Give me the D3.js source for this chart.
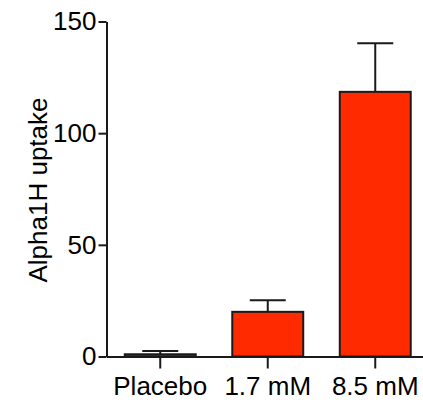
<!DOCTYPE html>
<html>
<head>
<meta charset="utf-8">
<script src="https://cdn.jsdelivr.net/npm/d3@7"></script>
<style>
  html, body { margin: 0; padding: 0; background: #fff; }
  svg { display: block; }
  text { font-family: "Liberation Sans", Arial, sans-serif; }
</style>
</head>
<body>
<svg id="chart" width="423" height="404"></svg>
<script>
const categories = ["Placebo", "1.7 mM", "8.5 mM"];
const means = [1, 20, 118.5];
const errors = [1.5, 5.2, 21.8];
const yTicks = [0, 50, 100, 150];
const yLabel = "Alpha1H uptake";

const svg = d3.select("#chart");
const x = d3.scaleBand().domain(categories).range([106.5, 429]).paddingInner(0.34).paddingOuter(0.17);
const y = d3.scaleLinear().domain([0, 150]).range([356.5, 21.5]);
const ink = "#1a1a1a";
const fontSize = 26;

// bars
svg.append("g").selectAll("rect").data(categories).join("rect")
  .attr("x", d => x(d))
  .attr("y", (d, i) => y(means[i]))
  .attr("width", x.bandwidth())
  .attr("height", (d, i) => y(0) - y(means[i]))
  .attr("fill", "#ff2a00")
  .attr("stroke", ink)
  .attr("stroke-width", 2);

// error bars (upper only)
const eb = svg.append("g").attr("stroke", ink).attr("stroke-width", 2);
categories.forEach((c, i) => {
  const cx = x(c) + x.bandwidth() / 2;
  eb.append("line").attr("x1", cx).attr("x2", cx).attr("y1", y(means[i])).attr("y2", y(means[i] + errors[i]));
  eb.append("line").attr("x1", cx - 18).attr("x2", cx + 18).attr("y1", y(means[i] + errors[i])).attr("y2", y(means[i] + errors[i]));
});

// y axis
const yAxis = svg.append("g").attr("transform", "translate(106.5,0)")
  .call(d3.axisLeft(y).tickValues(yTicks).tickSize(8).tickSizeOuter(0).tickPadding(2));
// x axis
const xAxis = svg.append("g").attr("transform", `translate(0,${y(0)})`)
  .call(d3.axisBottom(x).tickSize(12).tickSizeOuter(0).tickPadding(8));

[yAxis, xAxis].forEach(g => {
  g.selectAll("path, line").attr("stroke", ink).attr("stroke-width", 2);
  g.selectAll("text").attr("fill", "#000").style("font-size", fontSize + "px").attr("font-family", "Liberation Sans, Arial, sans-serif");
});

svg.append("text")
  .attr("transform", `translate(40,190) rotate(-90)`)
  .attr("text-anchor", "middle")
  .attr("dominant-baseline", "middle")
  .style("font-size", fontSize + "px")
  .text(yLabel);
</script>
</body>
</html>
